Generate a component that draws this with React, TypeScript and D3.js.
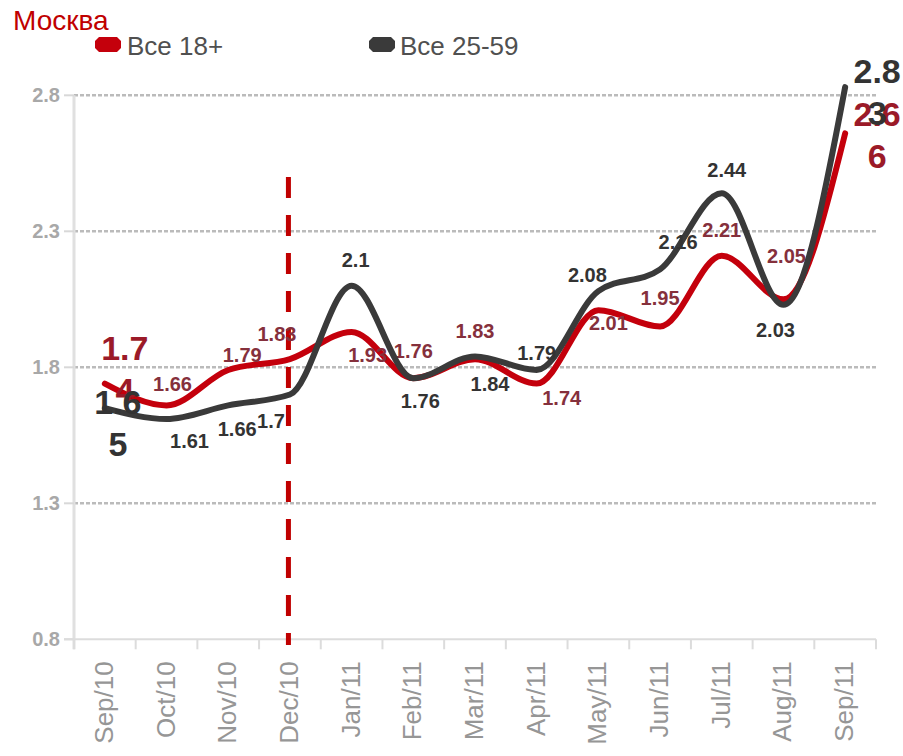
import React from "react";
import * as d3 from "d3";

const title = "Москва";
const categories = ["Sep/10","Oct/10","Nov/10","Dec/10","Jan/11","Feb/11","Mar/11","Apr/11","May/11","Jun/11","Jul/11","Aug/11","Sep/11"];
const seriesNames = ["Все 18+", "Все 25-59"];
const all18 = [1.74, 1.66, 1.79, 1.83, 1.93, 1.76, 1.83, 1.74, 2.01, 1.95, 2.21, 2.05, 2.66];
const all2559 = [1.65, 1.61, 1.66, 1.7, 2.1, 1.76, 1.84, 1.79, 2.08, 2.16, 2.44, 2.03, 2.83];
const yTicks = [0.8, 1.3, 1.8, 2.3, 2.8];
const markerCategory = "Dec/10";

// label offsets (dx, dy) from each point
const redOffsets: [number, number][] = [
  [20, -24], [6, -14], [14, -8], [-13, -18], [16, 30], [0, -20], [0, -21],
  [25, 21], [10, 20], [0, -22], [0, -19], [3, -36], [32, -7],
];
const blackOffsets: [number, number][] = [
  [13, 6], [23, 29], [9, 31], [-19, 33], [4, -19], [7, 30], [15, 35],
  [0, -10], [-11, -9], [18, -20], [5, -16], [-8, 32], [32, -4],
];

const FONT = "'Liberation Sans', Arial, Helvetica, sans-serif";
const RED = "#c4000c";
const DARK = "#3a3a3a";

export default function App() {
  const W = 903, H = 756;
  const x0 = 74, x1 = 876, yTop = 95.3, yBot = 639.3;
  const x = d3.scaleBand<string>().domain(categories).range([x0, x1]);
  const y = d3.scaleLinear().domain([0.8, 2.8]).range([yBot, yTop]);
  const cx = (c: string) => (x(c) as number) + x.bandwidth() / 2;

  const line = d3.line<number>()
    .x((_, i) => cx(categories[i]))
    .y((v) => y(v))
    .curve(d3.curveMonotoneX);

  const renderLabels = (vals: number[], offs: [number, number][], color: string, bigColor: string) =>
    vals.map((v, i) => {
      const px = cx(categories[i]) + offs[i][0];
      const py = y(v) + offs[i][1];
      const s = String(v);
      if (i === 0 || i === vals.length - 1) {
        return (
          <text key={i} x={px} y={py} textAnchor="middle" fontFamily={FONT} fontWeight="bold" fontSize={34} fill={bigColor}>
            <tspan x={px} y={py}>{s.slice(0, 3)}</tspan>
            <tspan x={px} y={py + 42}>{s.slice(3)}</tspan>
          </text>
        );
      }
      return (
        <text key={i} x={px} y={py} textAnchor="middle" fontFamily={FONT} fontWeight="bold" fontSize={20} fill={color}>
          {s}
        </text>
      );
    });

  const marker = (mx: number, my: number, color: string) => {
    const w = 26, h = 15, c = 4;
    const l = mx - w / 2, r = mx + w / 2, t = my - h / 2, b = my + h / 2;
    const d = `M${l + c},${t} L${r - c},${t} L${r},${t + c} L${r},${b - c} L${r - c},${b} L${l + c},${b} L${l},${b - c} L${l},${t + c} Z`;
    return <path d={d} fill={color} />;
  };

  return (
    <svg width={W} height={H} style={{ position: "absolute", left: 0, top: 0, background: "#fff" }}>
      <text x={13} y={30} fontFamily={FONT} fontSize={28} fill="#c00000">{title}</text>

      {/* legend */}
      {marker(108, 44.5, RED)}
      <text x={127} y={55} fontFamily={FONT} fontSize={26} fill="#505050">{seriesNames[0]}</text>
      {marker(382, 44.5, DARK)}
      <text x={400} y={55} fontFamily={FONT} fontSize={26} fill="#505050">{seriesNames[1]}</text>

      {/* grid */}
      {yTicks.filter((t) => t !== 0.8).map((t) => (
        <line key={t} x1={x0} x2={x1} y1={y(t)} y2={y(t)} stroke="#bbbbbb" strokeWidth={2.5} strokeDasharray="4 2" />
      ))}
      {/* y axis */}
      <line x1={x0} x2={x0} y1={yTop} y2={yBot + 10} stroke="#e0e0e0" strokeWidth={3} />
      {yTicks.map((t) => (
        <g key={t}>
          <line x1={x0 - 10} x2={x0} y1={y(t)} y2={y(t)} stroke="#d8d8d8" strokeWidth={2} />
          <text x={60} y={y(t) + 7} textAnchor="end" fontFamily={FONT} fontWeight="bold" fontSize={20} fill="#a8a8a8">
            {t.toFixed(1)}
          </text>
        </g>
      ))}
      {/* x axis */}
      <line x1={x0 - 10} x2={x1} y1={yBot} y2={yBot} stroke="#dcdcdc" strokeWidth={2} />
      {categories.map((c) => (
        <line key={"t" + c} x1={x(c) as number} x2={x(c) as number} y1={yBot} y2={yBot + 10} stroke="#dcdcdc" strokeWidth={2} />
      ))}
      <line x1={x1} x2={x1} y1={yBot} y2={yBot + 10} stroke="#dcdcdc" strokeWidth={2} />
      {categories.map((c) => (
        <text key={"l" + c} transform={`translate(${cx(c) + 8},${yBot + 22}) rotate(-90)`} textAnchor="end"
          fontFamily={FONT} fontSize={26} fill="#969696">{c}</text>
      ))}

      {/* vertical marker */}
      <line x1={cx(markerCategory) - 1.5} x2={cx(markerCategory) - 1.5} y1={177} y2={645} stroke="#c00000" strokeWidth={5} strokeDasharray="21 17" />

      {/* series */}
      <path d={line(all18) || ""} fill="none" stroke={RED} strokeWidth={6} strokeLinejoin="round" strokeLinecap="round" />
      {renderLabels(all18, redOffsets, "#85303c", "#9b1a28")}
      <path d={line(all2559) || ""} fill="none" stroke={DARK} strokeWidth={6} strokeLinejoin="round" strokeLinecap="round" />
      {renderLabels(all2559, blackOffsets, "#333333", "#333333")}
    </svg>
  );
}
